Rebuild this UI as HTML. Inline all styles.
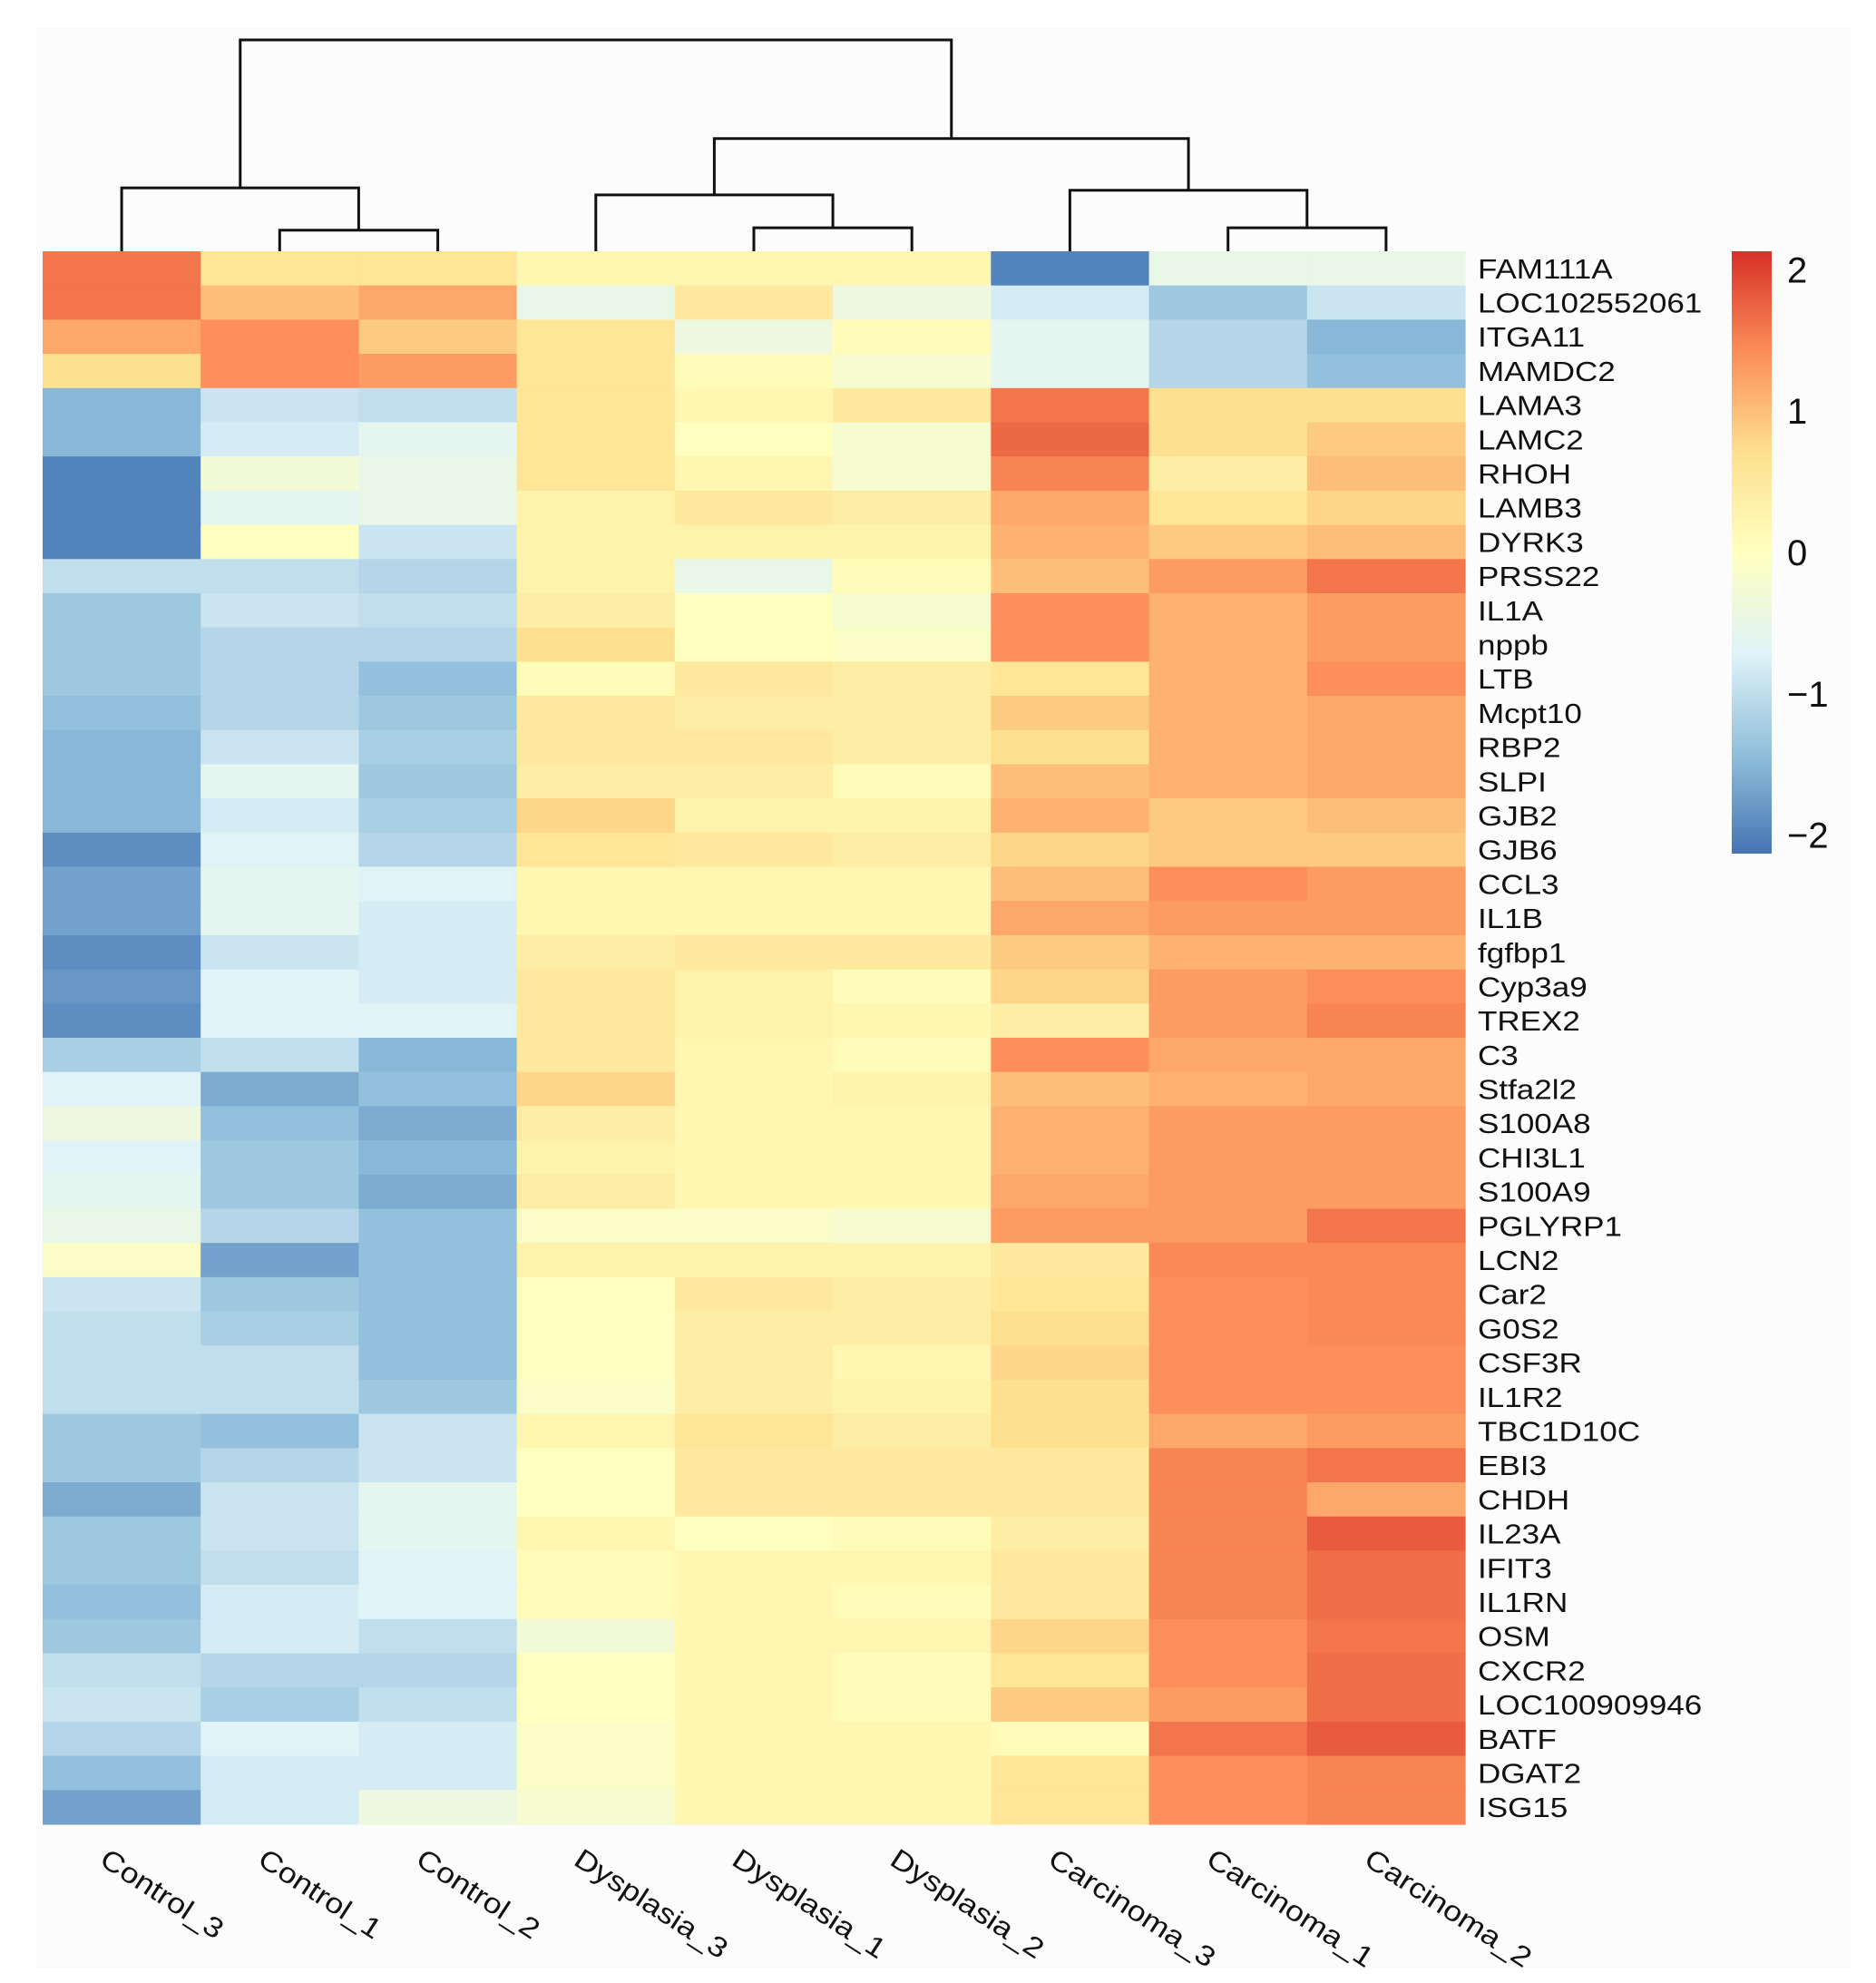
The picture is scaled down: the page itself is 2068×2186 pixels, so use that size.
<!DOCTYPE html>
<html><head><meta charset="utf-8"><style>
html,body{margin:0;padding:0;background:#fff;}
svg{display:block;}
text{font-family:"Liberation Sans",Arial,sans-serif;fill:#111;}
</style></head><body>
<svg id="chart" width="2068" height="2186" viewBox="0 0 2068 2186" xmlns="http://www.w3.org/2000/svg">
<rect x="40" y="30" width="2000" height="2140" fill="#fcfcfc"/>
<g id="cells"></g>
<g id="dendro"></g>
<g id="rowlabels"></g>
<g id="collabels"></g>
<g id="legend"></g>
</svg>
<script>
const samples = ["Control_3","Control_1","Control_2","Dysplasia_3","Dysplasia_1","Dysplasia_2","Carcinoma_3","Carcinoma_1","Carcinoma_2"];
const genes = ["FAM111A","LOC102552061","ITGA11","MAMDC2","LAMA3","LAMC2","RHOH","LAMB3","DYRK3","PRSS22","IL1A","nppb","LTB","Mcpt10","RBP2","SLPI","GJB2","GJB6","CCL3","IL1B","fgfbp1","Cyp3a9","TREX2","C3","Stfa2l2","S100A8","CHI3L1","S100A9","PGLYRP1","LCN2","Car2","G0S2","CSF3R","IL1R2","TBC1D10C","EBI3","CHDH","IL23A","IFIT3","IL1RN","OSM","CXCR2","LOC100909946","BATF","DGAT2","ISG15"];
const values = [
[1.6,0.6,0.6,0.2,0.2,0.2,-2.0,-0.5,-0.5],
[1.6,1.0,1.2,-0.5,0.5,-0.4,-0.8,-1.3,-0.9],
[1.2,1.4,0.9,0.6,-0.4,0.1,-0.6,-1.1,-1.5],
[0.7,1.4,1.3,0.6,0.1,-0.2,-0.6,-1.1,-1.4],
[-1.5,-0.9,-1.0,0.6,0.2,0.5,1.6,0.7,0.7],
[-1.5,-0.8,-0.6,0.6,0.0,-0.2,1.7,0.7,0.9],
[-2.0,-0.3,-0.5,0.6,0.2,-0.2,1.5,0.4,1.0],
[-2.0,-0.6,-0.5,0.3,0.5,0.4,1.2,0.6,0.8],
[-2.0,0.0,-0.9,0.3,0.3,0.3,1.1,0.9,1.0],
[-1.0,-1.0,-1.1,0.3,-0.5,0.1,1.0,1.3,1.6],
[-1.3,-0.9,-1.0,0.4,0.0,-0.2,1.4,1.1,1.3],
[-1.3,-1.1,-1.1,0.7,0.0,-0.1,1.4,1.1,1.3],
[-1.3,-1.1,-1.4,0.1,0.5,0.4,0.6,1.1,1.4],
[-1.4,-1.1,-1.3,0.5,0.4,0.4,0.9,1.1,1.2],
[-1.5,-0.9,-1.2,0.5,0.5,0.4,0.7,1.1,1.2],
[-1.5,-0.6,-1.3,0.4,0.4,0.1,1.0,1.1,1.2],
[-1.5,-0.8,-1.2,0.8,0.3,0.3,1.1,0.9,1.0],
[-1.9,-0.7,-1.1,0.6,0.5,0.4,0.8,0.9,0.9],
[-1.7,-0.6,-0.7,0.2,0.2,0.2,1.0,1.4,1.3],
[-1.7,-0.6,-0.8,0.2,0.2,0.2,1.2,1.3,1.3],
[-1.9,-0.9,-0.8,0.4,0.5,0.5,0.9,1.1,1.1],
[-1.8,-0.7,-0.8,0.5,0.3,0.1,0.8,1.3,1.4],
[-1.9,-0.7,-0.7,0.5,0.3,0.2,0.4,1.3,1.5],
[-1.2,-1.0,-1.5,0.5,0.2,0.1,1.4,1.2,1.2],
[-0.7,-1.6,-1.4,0.8,0.2,0.3,1.0,1.1,1.2],
[-0.4,-1.4,-1.6,0.4,0.2,0.2,1.1,1.3,1.3],
[-0.7,-1.3,-1.5,0.3,0.2,0.2,1.1,1.3,1.3],
[-0.6,-1.3,-1.6,0.4,0.2,0.2,1.2,1.3,1.3],
[-0.5,-1.1,-1.4,-0.1,-0.1,-0.2,1.3,1.3,1.6],
[-0.1,-1.7,-1.4,0.3,0.3,0.3,0.5,1.45,1.45],
[-0.9,-1.3,-1.4,0.0,0.5,0.4,0.6,1.4,1.45],
[-1.0,-1.2,-1.4,0.0,0.4,0.4,0.7,1.4,1.45],
[-1.0,-1.0,-1.4,0.0,0.4,0.2,0.8,1.4,1.4],
[-1.0,-1.0,-1.3,-0.1,0.4,0.3,0.7,1.4,1.4],
[-1.3,-1.4,-0.9,0.2,0.6,0.4,0.7,1.2,1.3],
[-1.3,-1.1,-0.9,0.0,0.5,0.5,0.5,1.5,1.6],
[-1.6,-0.9,-0.6,0.0,0.5,0.5,0.5,1.5,1.2],
[-1.3,-0.9,-0.6,0.2,0.0,0.1,0.4,1.5,1.8],
[-1.3,-1.0,-0.7,0.1,0.2,0.2,0.5,1.5,1.65],
[-1.4,-0.8,-0.7,0.1,0.2,0.1,0.5,1.5,1.65],
[-1.3,-0.8,-1.0,-0.3,0.2,0.2,0.8,1.4,1.6],
[-1.0,-1.1,-1.1,0.0,0.2,0.1,0.6,1.4,1.65],
[-0.9,-1.2,-1.0,0.0,0.2,0.1,0.9,1.3,1.65],
[-1.1,-0.7,-0.8,-0.1,0.2,0.2,0.1,1.6,1.8],
[-1.4,-0.8,-0.8,-0.1,0.2,0.2,0.6,1.4,1.5],
[-1.7,-0.8,-0.4,-0.2,0.2,0.2,0.6,1.4,1.5]
];
const legendTicks = [2,1,0,-1,-2];
const legendTickLabels = ["2","1","0","\u22121","\u22122"];
// dendrogram merges: [leftNode, rightNode, height]; leaves are 0..8, merged nodes 9+
const merges = [[1,2,0.09],[0,9,0.27],[4,5,0.1],[3,11,0.24],[7,8,0.1],[6,13,0.26],[12,14,0.48],[10,15,0.9]];

const NS="http://www.w3.org/2000/svg";
const X0=47,X1=1615,Y0=277,Y1=2011;
const cw=(X1-X0)/samples.length, rh=(Y1-Y0)/genes.length;
const xCol=i=>X0+cw*i, yRow=j=>Y0+rh*j;
const pal=["#4575B4","#91BFDB","#E0F3F8","#FFFFBF","#FEE090","#FC8D59","#D73027"];
const VMIN=-2.13,VMAX=2.13;
function hex(h){return [1,3,5].map(k=>parseInt(h.substr(k,2),16));}
function color(v){
  let t=(v-VMIN)/(VMAX-VMIN); t=Math.max(0,Math.min(1,t));
  const p=t*(pal.length-1), i=Math.min(pal.length-2,Math.floor(p)), f=p-i;
  const a=hex(pal[i]), b=hex(pal[i+1]);
  return "rgb("+a.map((c,k)=>Math.round(c+(b[k]-c)*f)).join(",")+")";
}
function mk(tag,attrs,parent){const e=document.createElementNS(NS,tag);for(const k in attrs)e.setAttribute(k,attrs[k]);parent.appendChild(e);return e;}

const cells=document.getElementById('cells');
genes.forEach((g,j)=>{samples.forEach((s,i)=>{
  const r=mk('rect',{x:xCol(i).toFixed(2),y:yRow(j).toFixed(2),width:(cw+0.6).toFixed(2),height:(rh+0.6).toFixed(2),fill:color(values[j][i])},cells);
  
  
});});

const rl=document.getElementById('rowlabels');
genes.forEach((g,j)=>{
  const t=mk('text',{x:0,y:0,'font-size':31,transform:'translate(1629,'+(yRow(j)+rh/2+11).toFixed(1)+') scale(1.13,1)'},rl);
  t.textContent=g;
  
  
});

const cl=document.getElementById('collabels');
samples.forEach((s,i)=>{
  const cx=xCol(i)+cw/2-14, cy=2036;
  const t=mk('text',{x:0,y:0,'font-size':31,transform:'translate('+cx.toFixed(1)+','+cy+') rotate(33) scale(1.15,1) translate(0,22)'},cl);
  t.textContent=s;
  
  
});

// dendrogram
const dg=document.getElementById('dendro');
const HBASE=Y0, HTOP=44, HMAX=0.9;
const hy=h=>HBASE-(h/HMAX)*(HBASE-HTOP);
const nodes=samples.map((s,i)=>({x:xCol(i)+cw/2,h:0}));
merges.forEach(m=>{
  const a=nodes[m[0]], b=nodes[m[1]], y=hy(m[2]);
  const p=mk('path',{d:'M'+a.x.toFixed(1)+','+hy(a.h).toFixed(1)+'V'+y.toFixed(1)+'H'+b.x.toFixed(1)+'V'+hy(b.h).toFixed(1),fill:'none',stroke:'#111','stroke-width':3},dg);
  
  
  nodes.push({x:(a.x+b.x)/2,h:m[2]});
});

// legend
const lg=document.getElementById('legend');
const LX=1909,LW=44,LY0=277,LY1=941;
const ly=v=>LY0+(VMAX-v)/(VMAX-VMIN)*(LY1-LY0);
const defs=mk('defs',{},lg);
const grad=mk('linearGradient',{id:'lgrad',x1:0,y1:0,x2:0,y2:1},defs);
pal.slice().reverse().forEach((c,k)=>mk('stop',{offset:(k/(pal.length-1)),'stop-color':c},grad));
const bar=mk('rect',{x:LX,y:LY0,width:LW,height:LY1-LY0,fill:'url(#lgrad)'},lg);


legendTicks.forEach((v,k)=>{
  const t=mk('text',{x:1970,y:(ly(v)+14).toFixed(1),'font-size':40},lg);
  t.textContent=legendTickLabels[k];
  
  
});
</script>
</body></html>
